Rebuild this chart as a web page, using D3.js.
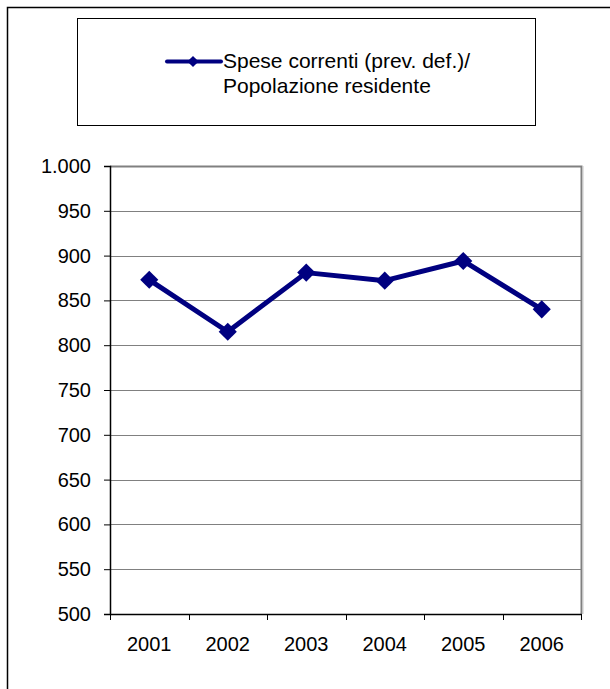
<!DOCTYPE html>
<html>
<head>
<meta charset="utf-8">
<script src="https://cdn.jsdelivr.net/npm/d3@7"></script>
<style>
  body { margin: 0; background: #fff; }
  text { font-family: "Liberation Sans", Arial, sans-serif; fill: #000; }
</style>
</head>
<body>
<svg id="chart" width="610" height="689"></svg>
<script>
var years = ["2001", "2002", "2003", "2004", "2005", "2006"];
var values = [873, 815, 881, 872, 894, 840];
var yTicks = [500, 550, 600, 650, 700, 750, 800, 850, 900, 950, 1000];
var seriesName = ["Spese correnti (prev. def.)/", "Popolazione residente"];

var margin = {top: 166, bottom: 75, left: 110, right: 29};
var width = 610, height = 689;
var svg = d3.select("#chart");
var lineColor = "#000080";

// outer frame
svg.append("path")
  .attr("d", "M7.5,689 V7.5 H610")
  .attr("fill", "none")
  .attr("stroke", "#000")
  .attr("stroke-width", 1.5);

var xScale = d3.scaleBand()
  .domain(years)
  .range([margin.left, width - margin.right]);
var yScale = d3.scaleLinear()
  .domain([500, 1000])
  .range([height - margin.bottom, margin.top]);

// gridlines
svg.append("g")
  .selectAll("line")
  .data(yTicks.slice(1, -1))
  .enter()
  .append("line")
    .attr("x1", margin.left)
    .attr("x2", width - margin.right)
    .attr("y1", function(d) { return Math.round(yScale(d)) + 0.5; })
    .attr("y2", function(d) { return Math.round(yScale(d)) + 0.5; })
    .attr("stroke", "#808080")
    .attr("stroke-width", 1);

// plot border top and right
var x1 = width - margin.right;
svg.append("path")
  .attr("d", "M" + margin.left + "," + (margin.top + 0.5) + " H" + (x1 + 0.5) + " V" + (height - margin.bottom))
  .attr("fill", "none")
  .attr("stroke", "#808080")
  .attr("stroke-width", 2);
svg.append("line")
  .attr("x1", x1 + 2).attr("x2", x1 + 2)
  .attr("y1", margin.top).attr("y2", height - margin.bottom)
  .attr("stroke", "#c8c8c8")
  .attr("stroke-width", 1);

// y axis
var yAxis = svg.append("g")
  .attr("transform", "translate(" + margin.left + ",0)")
  .call(d3.axisLeft(yScale)
    .tickValues(yTicks)
    .tickSize(6)
    .tickPadding(13)
    .tickFormat(function(d) { return d3.format(",")(d).replace(",", "."); }));
yAxis.select(".domain").attr("stroke", "#000").attr("stroke-width", 1.5);
yAxis.selectAll(".tick line").attr("stroke", "#000");
yAxis.selectAll("text")
  .style("font-size", "20px")
  .style("font-family", "Liberation Sans, Arial, sans-serif")
  .attr("fill", "#000");

// x axis
var xAxis = svg.append("g")
  .attr("transform", "translate(0," + (height - margin.bottom) + ")")
  .call(d3.axisBottom(xScale).tickSize(0).tickPadding(23));
xAxis.select(".domain").attr("stroke", "#000").attr("stroke-width", 1.5);
xAxis.selectAll("text")
  .style("font-size", "20px")
  .style("font-family", "Liberation Sans, Arial, sans-serif")
  .attr("fill", "#000");
// tick marks on category boundaries
var bounds = years.map(function(d) { return xScale(d); }).concat([xScale.range()[1]]);
xAxis.selectAll("line.bound")
  .data(bounds)
  .enter()
  .append("line")
    .attr("class", "bound")
    .attr("x1", function(d) { return Math.round(d) + 0.5; })
    .attr("x2", function(d) { return Math.round(d) + 0.5; })
    .attr("y1", 0)
    .attr("y2", 6)
    .attr("stroke", "#000");

// series
var cx = function(d, i) { return xScale(years[i]) + xScale.bandwidth() / 2; };
var line = d3.line()
  .x(cx)
  .y(function(d) { return yScale(d); });
svg.append("path")
  .datum(values)
  .attr("d", line)
  .attr("fill", "none")
  .attr("stroke", lineColor)
  .attr("stroke-width", 5)
  .attr("stroke-linejoin", "round");

var diamond = d3.symbol().type(d3.symbolDiamond2).size(210);
svg.selectAll("path.marker")
  .data(values)
  .enter()
  .append("path")
    .attr("class", "marker")
    .attr("d", diamond)
    .attr("transform", function(d, i) {
      return "translate(" + cx(d, i) + "," + yScale(d) + ")";
    })
    .attr("fill", lineColor);

// legend
var legend = svg.append("g");
legend.append("rect")
  .attr("x", 77.5).attr("y", 18.5)
  .attr("width", 458).attr("height", 107)
  .attr("fill", "#fff")
  .attr("stroke", "#000")
  .attr("stroke-width", 1);
legend.append("line")
  .attr("x1", 167).attr("x2", 221)
  .attr("y1", 61.5).attr("y2", 61.5)
  .attr("stroke", lineColor)
  .attr("stroke-width", 4)
  .attr("stroke-linecap", "round");
legend.append("path")
  .attr("d", d3.symbol().type(d3.symbolDiamond2).size(80))
  .attr("transform", "translate(193,61.5)")
  .attr("fill", lineColor);
legend.append("text")
  .style("font-size", "21px")
  .selectAll("tspan")
  .data(seriesName)
  .enter()
  .append("tspan")
    .attr("x", 223)
    .attr("y", function(d, i) { return 68 + i * 25; })
    .text(function(d) { return d; });
</script>
</body>
</html>
